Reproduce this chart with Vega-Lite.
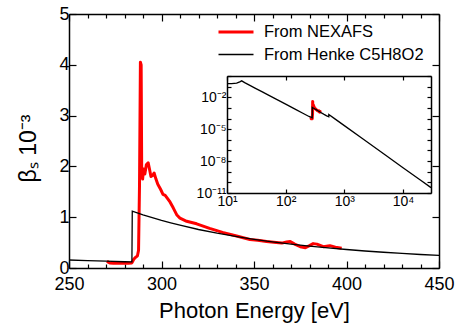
{
  "$schema": "https://vega.github.io/schema/vega-lite/v6.json",
  "autosize": {"type": "none"},
  "padding": {"left": 69, "top": 14, "right": 17, "bottom": 59},
  "width": 370,
  "height": 254,
  "background": "white",
  "config": {
    "font": "Liberation Sans",
    "view": {"stroke": null},
    "axis": {"grid": false, "domainColor": "black", "domainWidth": 1.5, "tickColor": "black", "tickWidth": 1.2, "labelColor": "black", "titleColor": "black", "labelFont": "Liberation Sans", "titleFont": "Liberation Sans", "titleFontWeight": "normal", "labelFlush": false, "labelOverlap": false},
    "legend": {"labelFont": "Liberation Sans"}
  },
  "datasets": {
    "nexafs": [
      {"E": 270.5, "beta": 0.00013, "series": "From NEXAFS"},
      {"E": 272, "beta": 0.0001, "series": "From NEXAFS"},
      {"E": 274, "beta": 0.000095, "series": "From NEXAFS"},
      {"E": 276, "beta": 0.0001, "series": "From NEXAFS"},
      {"E": 278, "beta": 0.000095, "series": "From NEXAFS"},
      {"E": 280, "beta": 0.0001, "series": "From NEXAFS"},
      {"E": 282, "beta": 0.000095, "series": "From NEXAFS"},
      {"E": 284, "beta": 0.0001, "series": "From NEXAFS"},
      {"E": 285, "beta": 0.00017, "series": "From NEXAFS"},
      {"E": 286, "beta": 0.00021, "series": "From NEXAFS"},
      {"E": 287, "beta": 0.00024, "series": "From NEXAFS"},
      {"E": 287.6, "beta": 0.00035, "series": "From NEXAFS"},
      {"E": 288.1, "beta": 0.0016, "series": "From NEXAFS"},
      {"E": 288.6, "beta": 0.00405, "series": "From NEXAFS"},
      {"E": 289.0, "beta": 0.004, "series": "From NEXAFS"},
      {"E": 289.3, "beta": 0.0019, "series": "From NEXAFS"},
      {"E": 289.8, "beta": 0.00175, "series": "From NEXAFS"},
      {"E": 290.3, "beta": 0.00195, "series": "From NEXAFS"},
      {"E": 291.0, "beta": 0.00185, "series": "From NEXAFS"},
      {"E": 291.8, "beta": 0.00203, "series": "From NEXAFS"},
      {"E": 292.8, "beta": 0.00207, "series": "From NEXAFS"},
      {"E": 293.5, "beta": 0.00195, "series": "From NEXAFS"},
      {"E": 294.3, "beta": 0.0018, "series": "From NEXAFS"},
      {"E": 295.2, "beta": 0.00182, "series": "From NEXAFS"},
      {"E": 296.0, "beta": 0.00187, "series": "From NEXAFS"},
      {"E": 297.0, "beta": 0.00175, "series": "From NEXAFS"},
      {"E": 298.0, "beta": 0.00165, "series": "From NEXAFS"},
      {"E": 299.5, "beta": 0.00155, "series": "From NEXAFS"},
      {"E": 300.8, "beta": 0.00145, "series": "From NEXAFS"},
      {"E": 302.0, "beta": 0.00143, "series": "From NEXAFS"},
      {"E": 303.0, "beta": 0.00138, "series": "From NEXAFS"},
      {"E": 304.6, "beta": 0.0013, "series": "From NEXAFS"},
      {"E": 306.4, "beta": 0.00118, "series": "From NEXAFS"},
      {"E": 308.2, "beta": 0.00105, "series": "From NEXAFS"},
      {"E": 310, "beta": 0.00098, "series": "From NEXAFS"},
      {"E": 313.6, "beta": 0.00092, "series": "From NEXAFS"},
      {"E": 319, "beta": 0.00087, "series": "From NEXAFS"},
      {"E": 326, "beta": 0.00078, "series": "From NEXAFS"},
      {"E": 333, "beta": 0.0007, "series": "From NEXAFS"},
      {"E": 340.6, "beta": 0.00063, "series": "From NEXAFS"},
      {"E": 347.8, "beta": 0.00056, "series": "From NEXAFS"},
      {"E": 352, "beta": 0.000545, "series": "From NEXAFS"},
      {"E": 356.8, "beta": 0.00052, "series": "From NEXAFS"},
      {"E": 362, "beta": 0.0005, "series": "From NEXAFS"},
      {"E": 365, "beta": 0.00049, "series": "From NEXAFS"},
      {"E": 367.6, "beta": 0.00051, "series": "From NEXAFS"},
      {"E": 369.6, "beta": 0.00052, "series": "From NEXAFS"},
      {"E": 372, "beta": 0.00047, "series": "From NEXAFS"},
      {"E": 375, "beta": 0.00042, "series": "From NEXAFS"},
      {"E": 377.8, "beta": 0.0004, "series": "From NEXAFS"},
      {"E": 380, "beta": 0.00044, "series": "From NEXAFS"},
      {"E": 382, "beta": 0.00048, "series": "From NEXAFS"},
      {"E": 384, "beta": 0.00047, "series": "From NEXAFS"},
      {"E": 387.5, "beta": 0.00042, "series": "From NEXAFS"},
      {"E": 391, "beta": 0.00044, "series": "From NEXAFS"},
      {"E": 394, "beta": 0.00041, "series": "From NEXAFS"},
      {"E": 397.4, "beta": 0.00039, "series": "From NEXAFS"}
    ],
    "henke": [
      {"E": 10, "beta": 0.19, "series": "From Henke C5H8O2"},
      {"E": 12, "beta": 0.195, "series": "From Henke C5H8O2"},
      {"E": 14.6, "beta": 0.21, "series": "From Henke C5H8O2"},
      {"E": 16.5, "beta": 0.28, "series": "From Henke C5H8O2"},
      {"E": 17.8, "beta": 0.35, "series": "From Henke C5H8O2"},
      {"E": 20, "beta": 0.24, "series": "From Henke C5H8O2"},
      {"E": 25, "beta": 0.125, "series": "From Henke C5H8O2"},
      {"E": 30, "beta": 0.0735, "series": "From Henke C5H8O2"},
      {"E": 40, "beta": 0.0319, "series": "From Henke C5H8O2"},
      {"E": 50, "beta": 0.0167, "series": "From Henke C5H8O2"},
      {"E": 70, "beta": 0.0063, "series": "From Henke C5H8O2"},
      {"E": 100, "beta": 0.00224, "series": "From Henke C5H8O2"},
      {"E": 150, "beta": 0.00069, "series": "From Henke C5H8O2"},
      {"E": 200, "beta": 0.0003, "series": "From Henke C5H8O2"},
      {"E": 250, "beta": 0.000157, "series": "From Henke C5H8O2"},
      {"E": 260, "beta": 0.000145, "series": "From Henke C5H8O2"},
      {"E": 270, "beta": 0.000134, "series": "From Henke C5H8O2"},
      {"E": 280, "beta": 0.000123, "series": "From Henke C5H8O2"},
      {"E": 284, "beta": 0.000119, "series": "From Henke C5H8O2"},
      {"E": 284.2, "beta": 0.00112, "series": "From Henke C5H8O2"},
      {"E": 290, "beta": 0.001048, "series": "From Henke C5H8O2"},
      {"E": 295, "beta": 0.000991, "series": "From Henke C5H8O2"},
      {"E": 300, "beta": 0.000937, "series": "From Henke C5H8O2"},
      {"E": 305, "beta": 0.000888, "series": "From Henke C5H8O2"},
      {"E": 310, "beta": 0.000842, "series": "From Henke C5H8O2"},
      {"E": 320, "beta": 0.000758, "series": "From Henke C5H8O2"},
      {"E": 330, "beta": 0.000685, "series": "From Henke C5H8O2"},
      {"E": 340, "beta": 0.000621, "series": "From Henke C5H8O2"},
      {"E": 350, "beta": 0.000564, "series": "From Henke C5H8O2"},
      {"E": 360, "beta": 0.000515, "series": "From Henke C5H8O2"},
      {"E": 370, "beta": 0.00047, "series": "From Henke C5H8O2"},
      {"E": 380, "beta": 0.000431, "series": "From Henke C5H8O2"},
      {"E": 390, "beta": 0.000395, "series": "From Henke C5H8O2"},
      {"E": 400, "beta": 0.000364, "series": "From Henke C5H8O2"},
      {"E": 410, "beta": 0.000335, "series": "From Henke C5H8O2"},
      {"E": 420, "beta": 0.00031, "series": "From Henke C5H8O2"},
      {"E": 430, "beta": 0.000287, "series": "From Henke C5H8O2"},
      {"E": 440, "beta": 0.000266, "series": "From Henke C5H8O2"},
      {"E": 450, "beta": 0.000247, "series": "From Henke C5H8O2"},
      {"E": 475, "beta": 0.00021, "series": "From Henke C5H8O2"},
      {"E": 500, "beta": 0.00018, "series": "From Henke C5H8O2"},
      {"E": 525, "beta": 0.000158, "series": "From Henke C5H8O2"},
      {"E": 543, "beta": 0.000146, "series": "From Henke C5H8O2"},
      {"E": 543.2, "beta": 0.00024, "series": "From Henke C5H8O2"},
      {"E": 700, "beta": 0.000088, "series": "From Henke C5H8O2"},
      {"E": 1000, "beta": 0.0000215, "series": "From Henke C5H8O2"},
      {"E": 2000, "beta": 0.00000139, "series": "From Henke C5H8O2"},
      {"E": 5000, "beta": 3.72e-8, "series": "From Henke C5H8O2"},
      {"E": 10000, "beta": 2.41e-9, "series": "From Henke C5H8O2"},
      {"E": 20000, "beta": 1.56e-10, "series": "From Henke C5H8O2"},
      {"E": 30000, "beta": 3.2e-11, "series": "From Henke C5H8O2"}
    ]
  },
  "layer": [
    {
      "data": {"name": "nexafs"},
      "mark": {"type": "line", "clip": true, "strokeJoin": "round"},
      "encoding": {
        "x": {"field": "E", "type": "quantitative", "scale": {"domain": [250, 450], "nice": false, "zero": false},
              "axis": {"orient": "top", "values": [250,260,270,280,290,300,310,320,330,340,350,360,370,380,390,400,410,420,430,440,450], "labels": false, "title": null, "tickSize": {"condition": {"test": "datum.value % 50 === 0", "value": -7}, "value": -4}}},
        "y": {"field": "beta", "type": "quantitative", "scale": {"domain": [0, 0.005], "nice": false},
              "axis": {"orient": "right", "values": [0, 0.001, 0.002, 0.003, 0.004, 0.005], "labels": false, "title": null, "tickSize": -7}},
        "color": {"field": "series", "type": "nominal", "scale": {"domain": ["From NEXAFS", "From Henke C5H8O2"], "range": ["#ff0000", "#000000"]},
                  "legend": {"orient": "none", "legendX": 148, "legendY": 8, "title": null, "symbolType": "stroke", "symbolSize": 1225, "labelFontSize": 16.5, "labelOffset": 9, "clipHeight": 20, "rowPadding": 2.5, "padding": 0, "symbolOffset": 0, "labelColor": "black"}},
        "strokeWidth": {"field": "series", "type": "nominal", "scale": {"domain": ["From NEXAFS", "From Henke C5H8O2"], "range": [3, 1.3]}, "legend": {"orient": "none", "legendX": 148, "legendY": 8, "title": null}}
      }
    },
    {
      "data": {"name": "henke"},
      "mark": {"type": "line", "clip": true},
      "encoding": {
        "x": {"field": "E", "type": "quantitative", "scale": {"domain": [250, 450], "nice": false, "zero": false},
              "axis": {"orient": "bottom", "values": [250,260,270,280,290,300,310,320,330,340,350,360,370,380,390,400,410,420,430,440,450], "labelExpr": "datum.value % 50 === 0 ? datum.label : ''", "labelFontSize": 18, "labelPadding": 14, "title": "Photon Energy [eV]", "titleFontSize": 22, "titlePadding": 4, "tickSize": {"condition": {"test": "datum.value % 50 === 0", "value": -7}, "value": -4}}},
        "y": {"field": "beta", "type": "quantitative", "scale": {"domain": [0, 0.005], "nice": false},
              "axis": {"orient": "left", "values": [0, 0.001, 0.002, 0.003, 0.004, 0.005], "labelExpr": "format(datum.value * 1000, 'd')", "labelFontSize": 18, "labelPadding": 7, "title": "βₛ  10⁻³", "titleFontSize": 23, "titleX": -29, "titleY": 134, "titleAlign": "center", "titleBaseline": "bottom", "titleAngle": 270, "tickSize": -7}},
        "color": {"field": "series", "type": "nominal"},
        "strokeWidth": {"field": "series", "type": "nominal"}
      }
    },
    {
      "data": {"name": "nexafs"},
      "mark": {"type": "line", "clip": true, "strokeJoin": "round"},
      "encoding": {
        "x": {"field": "E", "type": "quantitative", "scale": {"type": "log", "domain": [10, 30000], "range": [158, 362], "nice": false},
              "axis": {"orient": "top", "offset": -62, "values": [10, 100, 1000, 10000], "labels": false, "title": null, "tickSize": -4}},
        "y": {"field": "beta", "type": "quantitative", "scale": {"type": "log", "domain": [1e-11, 1], "range": [179, 62], "nice": false},
              "axis": {"orient": "right", "offset": -8, "values": [1e-11,1e-10,1e-9,1e-8,1e-7,1e-6,1e-5,1e-4,1e-3,1e-2,1e-1,1], "labels": false, "title": null, "tickSize": -4}},
        "color": {"field": "series", "type": "nominal"},
        "strokeWidth": {"field": "series", "type": "nominal"}
      }
    },
    {
      "data": {"name": "henke"},
      "mark": {"type": "line", "clip": true},
      "encoding": {
        "x": {"field": "E", "type": "quantitative", "scale": {"type": "log", "domain": [10, 30000], "range": [158, 362], "nice": false},
              "axis": {"orient": "bottom", "offset": -75, "values": [10, 100, 1000, 10000], "labelExpr": "datum.value < 50 ? '10¹' : datum.value < 500 ? '10²' : datum.value < 5000 ? '10³' : '10⁴'", "labelFontSize": 14, "labelPadding": 5, "title": null, "tickSize": -4}},
        "y": {"field": "beta", "type": "quantitative", "scale": {"type": "log", "domain": [1e-11, 1], "range": [179, 62], "nice": false},
              "axis": {"orient": "left", "offset": -158, "values": [1e-11,1e-10,1e-9,1e-8,1e-7,1e-6,1e-5,1e-4,1e-3,1e-2,1e-1,1], "labelExpr": "abs(log(datum.value)/LN10 + 2) < 0.01 ? '10⁻²' : abs(log(datum.value)/LN10 + 5) < 0.01 ? '10⁻⁵' : abs(log(datum.value)/LN10 + 8) < 0.01 ? '10⁻⁸' : abs(log(datum.value)/LN10 + 11) < 0.01 ? '10⁻¹¹' : ''", "labelFontSize": 14, "labelPadding": 5, "title": null, "tickSize": -4}},
        "color": {"field": "series", "type": "nominal"},
        "strokeWidth": {"field": "series", "type": "nominal"}
      }
    }
  ],
  "resolve": {
    "scale": {"x": "independent", "y": "independent"},
    "axis": {"x": "independent", "y": "independent"}
  }
}
